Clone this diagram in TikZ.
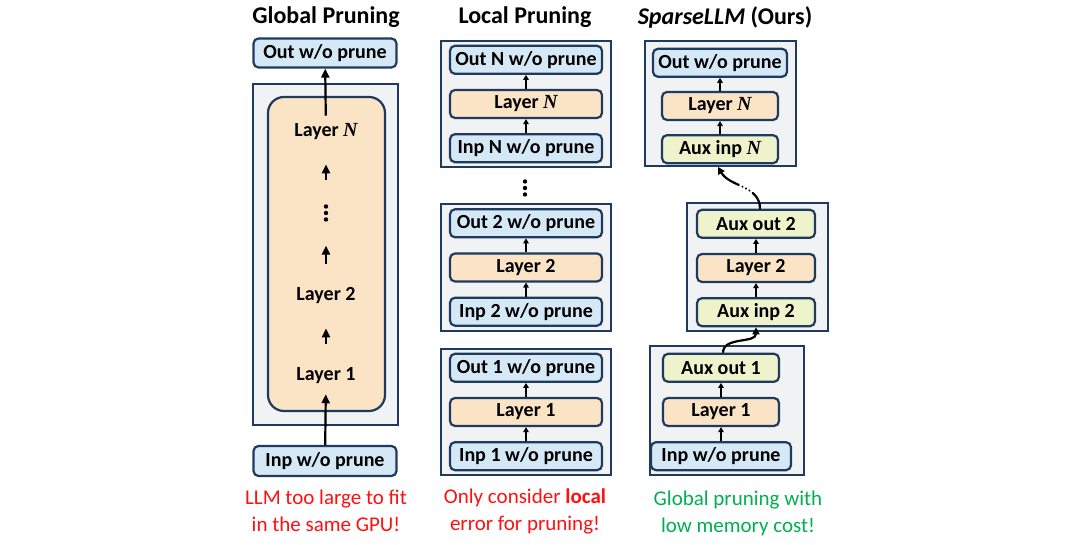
\documentclass[tikz,border=0pt]{standalone}
\usepackage{fontspec}
\setmainfont{Carlito}
\newfontfamily\serifN{Liberation Serif}
\usetikzlibrary{arrows.meta,positioning}

\definecolor{navy}{HTML}{1F3A5F}
\definecolor{ioblue}{HTML}{D4E8F6}
\definecolor{layorange}{HTML}{FBE3C6}
\definecolor{auxgreen}{HTML}{EEF3CB}
\definecolor{framegray}{HTML}{F1F2F4}
\definecolor{warnred}{HTML}{FF1010}
\definecolor{okgreen}{HTML}{00B050}
\newcommand{\LN}{{\serifN\bfseries\itshape N}}

\begin{document}
\begin{tikzpicture}[x=1pt, y=1pt,
    font=\fontsize{20}{23}\selectfont\bfseries,
    blk/.style={draw=navy, line width=2.2pt, rounded corners=5pt,
                minimum height=28pt, inner sep=0pt},
    io/.style={blk, fill=ioblue},
    lay/.style={blk, fill=layorange},
    aux/.style={blk, fill=auxgreen},
    frame/.style={draw=navy, line width=1.8pt, fill=framegray, inner sep=0pt},
    head/.style={font=\fontsize{24}{28}\selectfont\bfseries},
    note/.style={align=center, font=\fontsize{21}{27}\selectfont},
    txt/.style={inner sep=0pt, minimum height=14pt},
    dotcol/.style={inner sep=0pt, minimum width=6pt, minimum height=17pt},
    up/.style={-{Triangle[length=5pt,width=5.5pt]}, line width=1.5pt},
    bigup/.style={-{Triangle[length=9pt,width=8pt]}, line width=2.2pt},
    lift/.style={bigup, shorten <=24pt, shorten >=24pt},
    wave/.style={-{Triangle[length=7pt,width=7pt]}, line width=2.2pt}]

  \useasboundingbox (0,0) rectangle (1080,545);

  % global pruning
  \node[head] (h1) at (326,528) {Global Pruning};
  \node[frame, minimum width=145pt, minimum height=341pt] (gf) at (325.5,290.5) {};
  \node[draw=navy, line width=2.2pt, fill=layorange, rounded corners=16pt,
        minimum width=117pt, minimum height=314pt] (gcore) at (326.5,291) {};
  \node[io, minimum width=143pt, minimum height=29pt] (gout) at (325,492) {Out w/o prune};
  \node[io, minimum width=143pt, minimum height=30pt] (ginp) at (325,84) {Inp w/o prune};
  \node[txt] (g1) at (326,169) {Layer 1};
  \node[txt] (g2) at (326,249) {Layer 2};
  \node[dotcol] (gd) at (326,332) {};
  \node[txt] (gN) at (326,413) {Layer \LN};
  \foreach \k in {-6.5,0,6.5}
    \fill (gd) ++(0,\k) circle (2.2pt);
  \foreach \i/\j in {g1/g2, g2/gd, gd/gN}
    \draw[lift] (\i) -- (\j);
  \draw[bigup, shorten >=10pt] (ginp) -- (g1);
  \draw[bigup, shorten <=8pt] (gN) -- (gout);
  \node[note, text=warnred] (n1) at (326,34) {LLM too large to fit\\in the same GPU!};

  % local pruning
  \node[head] (h2) at (525,528) {Local Pruning};
  \node[frame, minimum width=170pt, minimum height=126pt] (lfN) at (526,441) {};
  \node[frame, minimum width=170pt, minimum height=127pt] (lf2) at (526,277.5) {};
  \node[frame, minimum width=170pt, minimum height=126pt] (lf1) at (526,133) {};
  \node[lay, minimum width=152pt] (lLN) at (lfN) {Layer \LN};
  \node[io, minimum width=152pt, above=14pt of lLN] (lON) {Out N w/o prune};
  \node[io, minimum width=152pt, below=14pt of lLN] (lIN) {Inp N w/o prune};
  \node[lay, minimum width=152pt] (lL2) at (lf2) {Layer 2};
  \node[io, minimum width=152pt, above=14pt of lL2] (lO2) {Out 2 w/o prune};
  \node[io, minimum width=152pt, below=14pt of lL2] (lI2) {Inp 2 w/o prune};
  \node[lay, minimum width=152pt] (lL1) at (lf1) {Layer 1};
  \node[io, minimum width=152pt, above=14pt of lL1] (lO1) {Out 1 w/o prune};
  \node[io, minimum width=152pt, below=14pt of lL1] (lI1) {Inp 1 w/o prune};
  \node[dotcol] (ld) at (525,357) {};
  \foreach \k in {-6.5,0,6.5}
    \fill (ld) ++(0,\k) circle (2.2pt);
  \node[note, text=warnred] (n2) at (525,34) {Only consider \textbf{local}\\error for pruning!};

  % sparsellm
  \node[head] (h3) at (725,528) {\textit{SparseLLM} (Ours)};
  \node[frame, minimum width=151pt, minimum height=125pt] (sfN) at (720.5,441.5) {};
  \node[frame, minimum width=141pt, minimum height=128pt] (sf2) at (757.5,278) {};
  \node[frame, minimum width=154pt, minimum height=129pt] (sf1) at (727,134.5) {};
  \node[lay, minimum width=116pt] (sLN) at (720,439) {Layer \LN};
  \node[io, minimum width=134pt, above=13pt of sLN] (sON) {Out w/o prune};
  \node[aux, minimum width=116pt, below=13pt of sLN] (sAN) {Aux inp \LN};
  \node[lay, minimum width=118pt] (sL2) at (756,277) {Layer 2};
  \node[aux, minimum width=118pt, above=14pt of sL2] (sO2) {Aux out 2};
  \node[aux, minimum width=118pt, below=14pt of sL2] (sA2) {Aux inp 2};
  \node[lay, minimum width=116pt] (sL1) at (721,133) {Layer 1};
  \node[aux, minimum width=116pt, above=14pt of sL1] (sO1) {Aux out 1};
  \node[io, minimum width=140pt, below=14pt of sL1] (sI1) {Inp w/o prune};
  \node[note, text=okgreen] (n3) at (738,32) {Global pruning with\\low memory cost!};

  \foreach \i/\j in {lIN/lLN, lLN/lON, lI2/lL2, lL2/lO2, lI1/lL1, lL1/lO1,
                     sAN/sLN, sLN/sON, sA2/sL2, sL2/sO2, sI1/sL1, sL1/sO1}
    \draw[up] (\i) -- (\j);
  \draw[wave] ([xshift=2pt]sO1.north) to[out=90, in=-90] (sA2.south);
  \draw[wave, line cap=round,
        dash pattern=on 18pt off 4pt on 0pt off 4pt on 0pt off 4pt on 0pt off 4pt on 60pt]
    ([xshift=4pt]sO2.north) to[out=90, in=-60] ([xshift=-2pt]sAN |- sfN.south);
\end{tikzpicture}
\end{document}
